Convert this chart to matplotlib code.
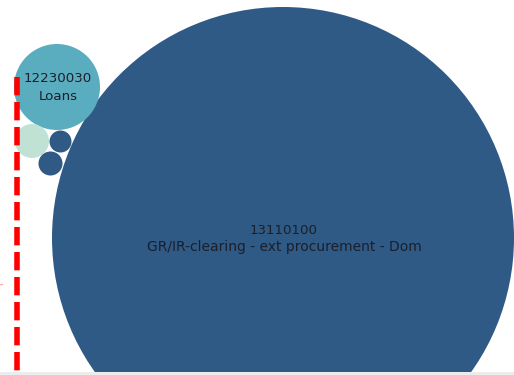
import numpy as np
import matplotlib.pyplot as plt
from matplotlib.patches import Circle

# Account balances shown as packed bubbles (area ~ value)
accounts = ["13110100", "12230030", "", "", ""]
descriptions = ["GR/IR-clearing - ext procurement - Dom", "Loans", "", "", ""]
values = [53361, 1849, 289, 121, 144]
colors = ["#2f5a85", "#5aacbf", "#bfe2d5", "#2f5a85", "#2f5a85"]

# Pixel layout of the packed view (centres), radius derived from value
centres = [(283, 238), (57, 87), (32, 141), (60.5, 141.5), (50.5, 163.5)]
radius_scale = 1.0

W, H = 514, 375
fig = plt.figure(figsize=(W / 100, H / 100), dpi=100)
ax = fig.add_axes([0, 0, 1, 1])
ax.set_xlim(0, W)
ax.set_ylim(H, 0)
ax.set_aspect("equal")
ax.axis("off")

for acc, desc, val, col, (cx, cy) in zip(accounts, descriptions, values, colors, centres):
    r = radius_scale * np.sqrt(val)
    ax.add_patch(Circle((cx, cy), r, facecolor=col, edgecolor="none", zorder=2))
    if acc:
        ax.text(cx + 1, cy - 8, acc, ha="center", va="center",
                fontsize=9.6, color="#1b1f2a", zorder=3, family="DejaVu Sans")
        ax.text(cx + 1, cy + 9, desc, ha="center", va="center",
                fontsize=10.0 if r > 100 else 9.6, color="#1b1f2a", zorder=3,
                family="DejaVu Sans")

# Reference threshold line
ax.plot([16.5, 16.5], [77, H], color="#ff0000", lw=4.0,
        dashes=(3.3, 1.2), zorder=4, solid_capstyle="butt")
ax.plot([0, 2], [284, 284], color="#ffb0b0", lw=1, zorder=4)

# Bottom border strip
ax.axhspan(372, H, color="#ececec", zorder=5, lw=0)

fig.savefig("out.png", dpi=100)
